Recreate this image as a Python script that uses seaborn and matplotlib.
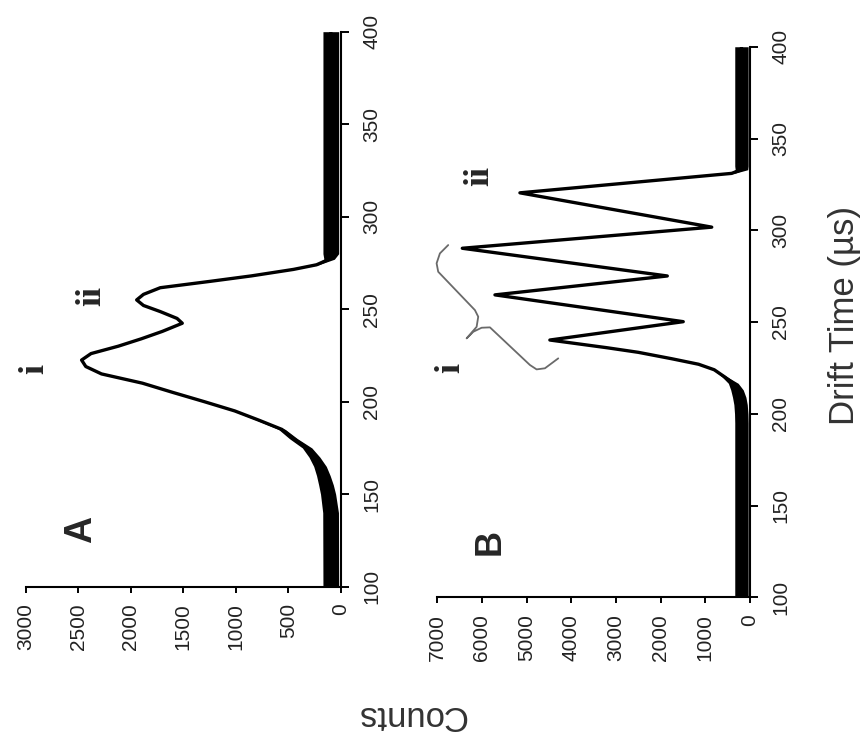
import matplotlib
matplotlib.use("Agg")
import matplotlib.pyplot as plt
import seaborn as sns
import numpy as np
import pandas as pd

# ---------------- data ----------------
# Panel A : drift time (us) vs counts (centre of trace) and noise half-width
drift_a = [100, 140, 150, 155, 160, 165, 170, 175, 180, 185, 190, 195, 200, 205,
           210, 215, 219, 222.5, 226, 230, 234, 238, 242.4, 245, 248.7, 252, 255,
           258, 261.6, 265, 268, 271.5, 274, 277, 280, 400]
counts_a = [94, 96, 120, 140, 165, 197, 250, 320, 450, 560, 780, 1010, 1300, 1600,
            1890, 2280, 2430, 2470, 2380, 2120, 1900, 1700, 1510, 1560, 1720, 1880, 1945,
            1880, 1720, 1250, 850, 450, 230, 110, 94, 94]
noise_a = [75, 75, 72, 70, 65, 60, 52, 45, 38, 32, 24, 16, 8, 0,
           0, 0, 0, 0, 0, 0, 0, 0, 0, 0, 0, 0, 0,
           0, 0, 0, 0, 0, 20, 50, 75, 75]

# Panel B
drift_b = [100, 195, 200, 205, 209, 213, 216.6, 220, 224, 227, 230, 233.5, 236,
           240.2, 250.2, 264.8, 275.1, 290.2, 301.7, 320.4, 331, 333, 335, 400]
counts_b = [190, 190, 195, 210, 240, 290, 373, 560, 800, 1150, 1750, 2500, 3200,
            4480, 1493, 5709, 1850, 6440, 855, 5150, 410, 190, 190, 190]
noise_b = [150, 150, 150, 150, 150, 140, 110, 60, 20, 0, 0, 0, 0,
           0, 0, 0, 0, 0, 0, 0, 60, 140, 150, 150]

# brace annotation in panel B (counts, drift)
brace_counts = [6755, 6941, 7015, 6979, 6157, 6083, 6119, 6343, 6195, 6007, 5821,
                4926, 4776, 4590, 4292]
brace_drift = [291.95, 287.4, 282.0, 277.4, 256.5, 252.9, 247.4, 241.1, 244.7, 246.9,
               247.1, 226.6, 224.2, 224.8, 230.2]

drift_ticks = [100, 150, 200, 250, 300, 350, 400]
counts_ticks_a = [0, 500, 1000, 1500, 2000, 2500, 3000]
counts_ticks_b = [0, 1000, 2000, 3000, 4000, 5000, 6000, 7000]

# ---------------- figure ----------------
sns.set_theme(style="white")
plt.rcParams['font.family'] = ['Liberation Sans', 'DejaVu Sans']

fig = plt.figure(figsize=(8.64, 7.35), dpi=100)
axA = fig.add_axes([0.0301, 0.2018, 0.3642, 0.7551])
axB = fig.add_axes([0.5061, 0.1873, 0.3619, 0.7491])

panels = [
    (axA, drift_a, counts_a, noise_a, 3000, counts_ticks_a),
    (axB, drift_b, counts_b, noise_b, 7000, counts_ticks_b),
]

for ax, d, c, n, cmax, cticks in panels:
    df = pd.DataFrame({"drift": d, "counts": c})
    lo = np.array(c) - np.array(n)
    hi = np.array(c) + np.array(n)
    ax.fill_betweenx(d, lo, hi, color="black", lw=0)
    sns.lineplot(data=df, x="counts", y="drift", orient="y", estimator=None,
                 color="black", lw=2.4, ax=ax)
    ax.set_xlim(cmax, 0)
    ax.set_ylim(100, 400)
    ax.set_xticks(cticks)
    ax.set_yticks(drift_ticks)
    ax.set_xlabel("")
    ax.set_ylabel("")
    ax.yaxis.tick_right()
    for s in ["left", "top"]:
        ax.spines[s].set_visible(False)
    for s in ["right", "bottom"]:
        ax.spines[s].set_color("black")
        ax.spines[s].set_linewidth(1.5)
    ax.tick_params(axis="x", direction="out", length=4, width=1.4, pad=8,
                   labelsize=15, colors="black", bottom=True)
    ax.tick_params(axis="y", direction="out", length=5.5, width=1.4, pad=10,
                   labelsize=15, colors="black", right=True, left=False)
    for lab in ax.get_xticklabels():
        lab.set_rotation(90)
        lab.set_ha("center")
        lab.set_va("top")
        lab.set_color("#222222")
    for lab in ax.get_yticklabels():
        lab.set_rotation(90)
        lab.set_ha("left")
        lab.set_va("center")
        lab.set_color("#222222")
    ax.set_facecolor("white")

# brace
axB.plot(brace_counts, brace_drift, color="#6a6a6a", lw=1.3, clip_on=False)

# panel letters
fig.text(0.0938, 0.2803, "A", rotation=90, fontsize=27, fontweight="bold",
         ha="center", va="center", family=["Liberation Sans", "DejaVu Sans"])
fig.text(0.567, 0.2626, "B", rotation=90, fontsize=26, fontweight="bold",
         ha="center", va="center", family=["Liberation Sans", "DejaVu Sans"])

# peak labels
serif = ["Liberation Serif", "DejaVu Serif"]
fig.text(0.0405, 0.498, "i", rotation=90, fontsize=26, fontweight="bold",
         ha="center", va="center", family=serif)
fig.text(0.1065, 0.597, "ii", rotation=90, fontsize=26, fontweight="bold",
         ha="center", va="center", family=serif)
fig.text(0.522, 0.499, "i", rotation=90, fontsize=26, fontweight="bold",
         ha="center", va="center", family=serif)
fig.text(0.5556, 0.7605, "ii", rotation=90, fontsize=26, fontweight="bold",
         ha="center", va="center", family=serif)

# axis titles
fig.text(0.978, 0.571, "Drift Time (\u00b5s)", rotation=90, fontsize=25,
         ha="center", va="center", color="#333333")
fig.text(0.4757, 0.026, "Counts", rotation=180, fontsize=25,
         ha="center", va="center", color="#333333")

fig.savefig("out.png", dpi=100, facecolor="white")
